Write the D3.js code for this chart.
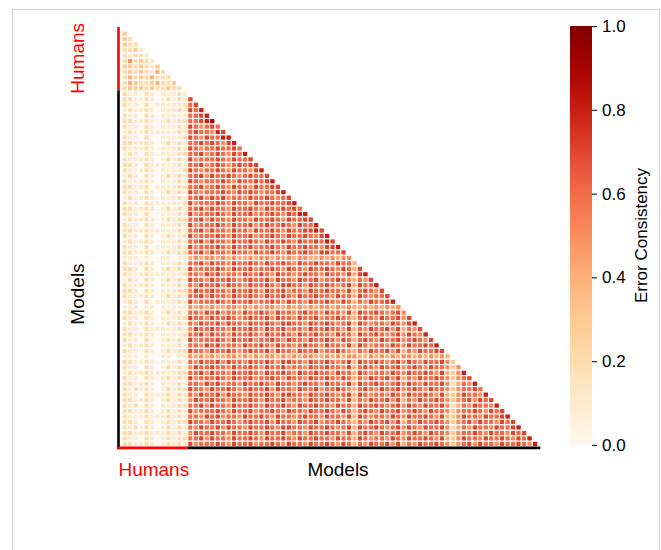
<!DOCTYPE html>
<html>
<head>
<meta charset="utf-8">
<script src="https://cdn.jsdelivr.net/npm/d3@7"></script>
<style>
  html, body { margin: 0; padding: 0; background: #fff; }
  svg { display: block; }
  text { font-family: "Liberation Sans", Arial, sans-serif; }
</style>
</head>
<body>
<svg id="chart" width="661" height="550"></svg>
<script>
// ---------------- DATA ----------------
// 12 human observers followed by 65 models (77 items). Lower triangle, diagonal excluded.
const groupNames = ["Humans", "Models"];
const nHumans = 12;
const nModels = 65;
const colorbarTicks = [0.0, 0.2, 0.4, 0.6, 0.8, 1.0];

// Each digit d encodes an error-consistency value of about d/10.
// Human vs human, rows 1..11 (columns 0..row-1)
const rowsHumanHuman = [
  "3",
  "32",
  "322",
  "2231",
  "21221",
  "252321",
  "3323213",
  "23232142",
  "242324222",
  "2432234223",
  "23332322322"
];

// Human columns (0..11) for model rows 12..76
const rowsModelHuman = [
  "211021011121","221121012121","211020111112","121121011121","211021011111",
  "221121012122","211021011121","121121111121","211020011112","221121012121",
  "211121011121","121021011122","211121012121","221021111121","211121011112",
  "121021012121","211121011121","221120111122","211021012121","121121011121",
  "211021111112","221121012121","211020011121","121121012122","211021011121",
  "221121111121","211021012112","121121011121","211020111121","221121012122",
  "111010011011","211121011121","221021012121","211121111112","121021012121",
  "211121011121","221021011122","211121012121","121020111121","111011011111",
  "221121012121","211021011122","121121012121","211021111121","221121011112",
  "211020012121","121121011121","211021012122","111010011011","221121011121",
  "211021012121","121121111122","211021012121","221121011121","212121012122",
  "211021112121","221121012121","212021011122","221121012121","211121112121",
  "221021012122","212121012121","221121112121","211021012122","221121012121"
];

// Model vs model, rows 13..76 (columns 12..row-1)
const rowsModelModel = [
  "7",
  "67",
  "768",
  "6678",
  "66789",
  "765676",
  "6766587",
  "76576688",
  "667676578",
  "7656676676",
  "66756765768",
  "756667657667",
  "6675676567677",
  "76566765766578",
  "667576676567667",
  "7656667657667678",
  "66756765766576677",
  "765666765767656678",
  "6675767566576676567",
  "75666765766576676678",
  "667576657667657667676",
  "7566676576675667657688",
  "66757665766576676576677",
  "756667657667567667657668",
  "6675766576657667657667787",
  "75666765766756676576676578",
  "667576657667657667657667687",
  "7566676576675667657667665778",
  "66757665766576676576676577667",
  "454554545445455454545544545455",
  "6675766576676576676576676657664",
  "75666765766756676576657667657647",
  "665767566576676576656766576657478",
  "7665766765676675766576675667654657",
  "65766757665766765776657667656747668",
  "576676657667657667566576676657467657",
  "6675766576676576676576676657664765667",
  "75666765766756676576657667657646576678",
  "545454455454545544545454554545445454545",
  "6657675665766765766567665766574766765675",
  "76657667656766757665766756676546765766757",
  "657667576657667657766576676567476566576578",
  "5766766576676576675665766766574657667574657",
  "66757665766765766765766766576647667656757658",
  "756667657667566765766576676576467657667567657",
  "6657675665766765766567665766574765665765766768",
  "76657667656766757665766756676546576675746576677",
  "545454455454545545454554454545544545454554545454",
  "6576675766576676577665766765674766765675765766753",
  "57667665766765766756657667665746765766756765766535",
  "667576657667657667657667665766476566576576676574358",
  "7566676576675667657665766765764657667574657667653567",
  "66576756657667657665676657665747667656757657667524658",
  "766576676567667576657667566765467657667567657665356676",
  "6576675766576676577665766765674765665765766765743576658",
  "57667665766765766756657667665746576675746576676535675767",
  "667576657667657667657667665766476676567576576675246576658",
  "7566676576675667657665766765764676576675676576653566765767",
  "66576756657667657665676657665747656657657667657435766576678",
  "766576676567667576657667566765465766757465766765356757665767",
  "6576675766576676577665766765674766765675765766752465766576678",
  "57667665766765766756657667665746765766756765766535667657665767",
  "667576657667657667657667665766476566576576676574357665766765768",
  "7566676576675667657665766765764657667574657667653567576657667658"
];

// ---------------- BUILD CELLS ----------------
const N = nHumans + nModels;
const decode = ch => (+ch) / 10;
const cells = [];
rowsHumanHuman.forEach((s, i) => {
  const r = i + 1;
  for (let c = 0; c < Math.min(s.length, r); c++) cells.push({r, c, v: decode(s[c])});
});
rowsModelHuman.forEach((s, i) => {
  const r = i + nHumans;
  for (let c = 0; c < Math.min(s.length, nHumans, r); c++) cells.push({r, c, v: decode(s[c])});
});
rowsModelModel.forEach((s, i) => {
  const r = i + nHumans + 1;
  for (let k = 0; k < s.length; k++) {
    const c = nHumans + k;
    if (c < r) cells.push({r, c, v: decode(s[k])});
  }
});

// ---------------- DRAW ----------------
const svg = d3.select("#chart");

// figure frame
svg.append("rect").attr("x", 12.5).attr("y", 9.5).attr("width", 647).attr("height", 560)
  .attr("fill", "none").attr("stroke", "#d0d0d0").attr("stroke-width", 1);

const x = d3.scaleBand().domain(d3.range(N)).range([122, 543.2]);
const y = d3.scaleBand().domain(d3.range(N)).range([25.5, 446.7]);
const color = d3.scaleSequential(d3.interpolateOrRd).domain([0, 1]);

svg.append("g").selectAll("rect").data(cells).join("rect")
  .attr("x", d => x(d.c)).attr("y", d => y(d.r))
  .attr("width", x.bandwidth()).attr("height", y.bandwidth())
  .attr("fill", d => color(d.v))
  .attr("stroke", "#fff").attr("stroke-width", 1.1);

// group axis lines
const lw = 2.6;
const axX = x(0) - 3.5;
const axY = y(N - 1) + y.bandwidth() + 1.2;
svg.append("line").attr("x1", axX).attr("x2", axX).attr("y1", 27).attr("y2", y(nHumans) - 1)
  .attr("stroke", "red").attr("stroke-width", lw);
svg.append("line").attr("x1", axX).attr("x2", axX).attr("y1", y(nHumans) - 1).attr("y2", axY + lw / 2)
  .attr("stroke", "#000").attr("stroke-width", lw);
svg.append("line").attr("y1", axY).attr("y2", axY).attr("x1", axX - lw / 2).attr("x2", x(nHumans))
  .attr("stroke", "red").attr("stroke-width", lw);
svg.append("line").attr("y1", axY).attr("y2", axY).attr("x1", x(nHumans)).attr("x2", x(N - 1) + 2.5)
  .attr("stroke", "#000").attr("stroke-width", lw);

// group labels
const fs = 19;
svg.append("text").attr("transform", `translate(84,${(y(0) + y(nHumans)) / 2}) rotate(-90)`)
  .attr("text-anchor", "middle").attr("fill", "red").attr("font-size", fs).text(groupNames[0]);
svg.append("text").attr("transform", `translate(84,294) rotate(-90)`)
  .attr("text-anchor", "middle").attr("fill", "#000").attr("font-size", fs).text(groupNames[1]);
svg.append("text").attr("x", (x(0) + x(nHumans)) / 2 - 1).attr("y", 476)
  .attr("text-anchor", "middle").attr("fill", "red").attr("font-size", fs).text(groupNames[0]);
svg.append("text").attr("x", 338).attr("y", 476)
  .attr("text-anchor", "middle").attr("fill", "#000").attr("font-size", fs).text(groupNames[1]);

// colorbar
const cbX = 570, cbW = 22, cbTop = 26, cbBot = 445;
const defs = svg.append("defs");
const grad = defs.append("linearGradient").attr("id", "cbgrad")
  .attr("x1", 0).attr("y1", 1).attr("x2", 0).attr("y2", 0);
d3.range(0, 1.0001, 0.05).forEach(t => grad.append("stop").attr("offset", t).attr("stop-color", color(t)));
svg.append("rect").attr("x", cbX).attr("y", cbTop).attr("width", cbW).attr("height", cbBot - cbTop)
  .attr("fill", "url(#cbgrad)");
const cbScale = d3.scaleLinear().domain([0, 1]).range([cbBot, cbTop]);
const cbAxis = svg.append("g").attr("transform", `translate(${cbX + cbW},0)`)
  .call(d3.axisRight(cbScale).tickValues(colorbarTicks).tickFormat(d3.format(".1f")).tickSize(5).tickPadding(5));
cbAxis.select(".domain").remove();
cbAxis.selectAll("line").attr("stroke", "#000").attr("stroke-width", 1);
cbAxis.selectAll("text").attr("font-size", 17).attr("fill", "#000")
  .attr("font-family", "'Liberation Sans', Arial, sans-serif");
svg.append("text").attr("transform", `translate(647,${(cbTop + cbBot) / 2}) rotate(-90)`)
  .attr("text-anchor", "middle").attr("font-size", 17).attr("fill", "#000").text("Error Consistency");
</script>
</body>
</html>
